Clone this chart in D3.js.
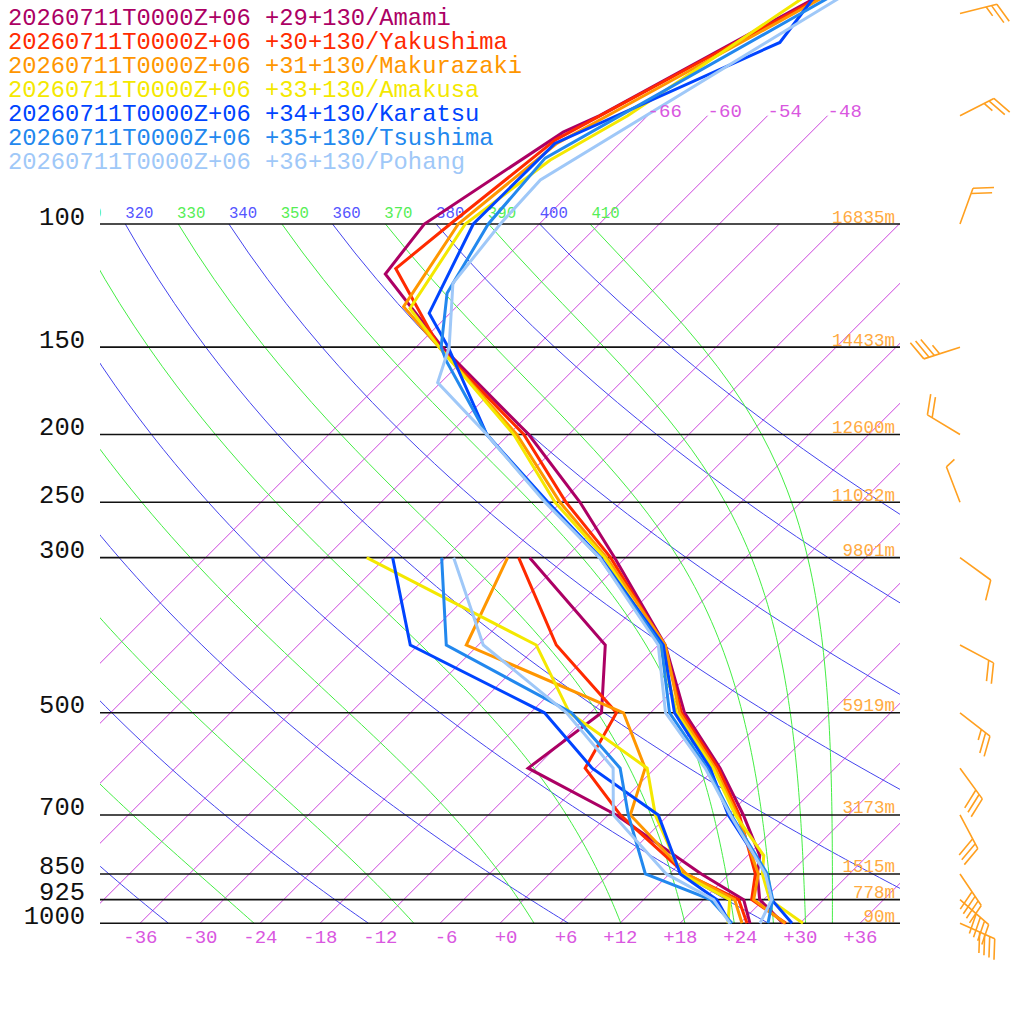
<!DOCTYPE html>
<html><head><meta charset="utf-8">
<script src="https://cdn.jsdelivr.net/npm/d3@7"></script>
<style>
html,body{margin:0;padding:0;background:#fff;}
svg{display:block;}
</style></head><body>
<svg id="chart" width="1024" height="1024"></svg>
<script>
// ---------------- DATA ----------------
const runLabel = "20260711T0000Z+06";
const stationNames = ["Amami","Yakushima","Makurazaki","Amakusa","Karatsu","Tsushima","Pohang"];
const stationCoords = ["+29+130","+30+130","+31+130","+33+130","+34+130","+35+130","+36+130"];

const pressureLevels = [100,150,200,250,300,500,700,850,925,1000];
const heightLabels = ["16835m","14433m","12600m","11032m","9801m","5919m","3173m","1515m","778m","90m"];
const tempTicks = [-36,-30,-24,-18,-12,-6,0,6,12,18,24,30,36];
const isothermValues = [-66,-60,-54,-48,-42,-36,-30,-24,-18,-12,-6,0,6,12,18,24,30,36];
const isothermTopLabels = [-66,-60,-54,-48];
const dryAdiabats = [240,260,280,300,320,340,360,380,400];
const moistAdiabats = [250,270,290,310,330,350,370,390,410];

// [pressure hPa, temperature C]
const amamiTemp = [[1000,28.3],[925,23.6],[850,20.8],[800,19.2],[700,13.5],[600,6.5],[500,-2.6],[400,-11.3],[300,-25.1],[250,-34.1],[200,-46.0],[150,-63.4],[117.9,-76.4],[100,-77.5],[73.9,-72.8],[70,-70.8],[50,-62.3],[40,-56.6]];
const yakushimaTemp = [[1000,28.6],[925,22.8],[850,20.6],[700,13.1],[600,6.3],[500,-2.9],[400,-11.4],[300,-25.5],[250,-35.5],[200,-46.5],[150,-63.7],[115.8,-75.9],[100,-74.9],[75.8,-72.8],[50,-62.0],[40,-56.2]];
const makurazakiTemp = [[1000,28.5],[925,23.0],[850,20.9],[700,12.9],[600,6.0],[500,-3.1],[400,-11.3],[300,-25.9],[250,-36.1],[200,-47.2],[150,-63.7],[131.3,-71.3],[100,-74.1],[76.7,-72.3],[50,-61.6],[40,-56.1]];
const amakusaTemp = [[1000,30.3],[925,24.6],[850,21.3],[800,19.6],[700,12.7],[600,5.8],[500,-3.4],[400,-11.8],[300,-26.1],[250,-36.6],[200,-47.5],[150,-63.7],[132,-70.5],[100,-73.4],[81,-71.3],[70,-68.0],[50,-63.0],[40,-59.7]];
const karatsuTemp = [[1000,29.2],[925,24.8],[850,21.7],[700,12.0],[600,5.5],[500,-3.6],[400,-11.5],[300,-26.5],[250,-37.3],[200,-50.2],[150,-62.8],[134.1,-68.1],[100,-72.6],[76.7,-72.5],[55,-60.1],[50,-60.8],[40,-62.5]];
const tsushimaTemp = [[1000,26.8],[925,24.9],[850,21.8],[700,12.3],[600,5.2],[500,-4.1],[400,-11.7],[300,-26.6],[250,-37.5],[200,-50.2],[157,-61.6],[150,-63.5],[125.6,-68.3],[100,-71.1],[80.5,-72.0],[50,-60.9],[40,-55.7]];
const pohangTemp = [[1000,26.0],[925,24.8],[850,21.6],[700,12.2],[600,5.0],[500,-4.5],[400,-12.0],[300,-26.6],[250,-37.6],[200,-50.2],[168.6,-60.3],[150,-62.7],[121.6,-68.7],[100,-69.9],[86.5,-70.3],[50,-59.6],[40,-55.2]];

// [pressure hPa, dew point C]
const amamiDew = [[1000,25.0],[925,22.0],[850,15.2],[700,0.8],[600,-12.7],[500,-10.9],[400,-17.3],[300,-33.6]];
const yakushimaDew = [[1000,24.7],[925,21.5],[850,13.6],[700,1.2],[600,-7.0],[500,-9.4],[400,-22.2],[300,-34.7]];
const makurazakiDew = [[1000,24.2],[925,21.1],[850,13.7],[700,2.2],[600,-1.0],[500,-8.7],[400,-31.2],[300,-35.8]];
const amakusaDew = [[1000,22.8],[925,20.6],[850,13.2],[700,4.7],[600,-0.8],[500,-14.1],[400,-24.2],[300,-49.9]];
const karatsuDew = [[1000,23.0],[925,19.3],[850,13.1],[700,5.0],[600,-6.3],[500,-16.6],[400,-36.8],[300,-47.3]];
const tsushimaDew = [[1000,23.2],[925,18.7],[850,9.6],[700,2.0],[600,-3.5],[500,-13.9],[400,-33.2],[300,-42.4]];
const pohangDew = [[1000,23.0],[925,19.0],[850,11.7],[700,0.5],[600,-4.2],[500,-14.4],[400,-29.5],[300,-41.2]];

// wind barbs
const windLevels = [50,70,100,150,200,250,300,400,500,600,700,850,925,1000];
const windDirection = [76,63,20,252,301,339,126,118,128,144,152,146,131,114];
const windSpeed = [25,25,20,35,20,5,10,20,25,30,30,40,40,40];

// ---------------- STYLE ----------------
const lineColors = ["#ac0064","#ff2a00","#ff9600","#f4e800","#0044ff","#2288ee","#9fc8f8"];
const FONT = "'Liberation Mono','DejaVu Sans Mono',monospace";

const temps = [amamiTemp,yakushimaTemp,makurazakiTemp,amakusaTemp,karatsuTemp,tsushimaTemp,pohangTemp];
const dews = [amamiDew,yakushimaDew,makurazakiDew,amakusaDew,karatsuDew,tsushimaDew,pohangDew];

// ---------------- SCALES ----------------
const y = d3.scaleLog().domain([1000,100]).range([923.3,224]);
const xT = d3.scaleLinear().domain([-40,40]).range([100,900]);
const skewX = (T,p) => xT(T) + (y(1000) - y(p));

const svg = d3.select("#chart");
svg.append("rect").attr("width",1024).attr("height",1024).attr("fill","#fff");
const defs = svg.append("defs");
defs.append("clipPath").attr("id","plotClip").append("rect").attr("x",100).attr("y",0).attr("width",800).attr("height",924);
defs.append("clipPath").attr("id","labClip").append("rect").attr("x",100).attr("y",0).attr("width",800).attr("height",1024);

const bg = svg.append("g").attr("clip-path","url(#plotClip)");

// isotherms
bg.selectAll("line.iso").data(isothermValues).join("line")
  .attr("x1",T=>skewX(T,1000)).attr("y1",y(1000))
  .attr("x2",T=>skewX(T,T<=-48?70:100)).attr("y2",T=>y(T<=-48?70:100))
  .attr("stroke","#cc44dd").attr("stroke-width",1);

// sampling pressures for curves
const samplePs = d3.range(1000,99,-10);
const curve = d3.line().x(d=>skewX(d[1],d[0])).y(d=>y(d[0]));

// dry adiabats
bg.selectAll("path.dry").data(dryAdiabats).join("path")
  .attr("d",th=>curve(samplePs.map(p=>[p, th*Math.pow(p/1000,0.2857)-273.15])))
  .attr("fill","none").attr("stroke","#4444ee").attr("stroke-width",1);

// moist (pseudo) adiabats, labelled by equivalent potential temperature
function thetaESat(Tk,p){
  const Tc = Tk-273.15;
  const es = 6.112*Math.exp(17.67*Tc/(Tc+243.5));
  let r = 0.622*es/Math.max(p-es,1e-3);
  r = Math.min(r,0.2);
  return Tk*Math.pow(1000/p,0.2854*(1-0.28*r))*Math.exp((3.376/Tk-0.00254)*r*1000*(1+0.81*r));
}
function solveT(te,p){
  let lo=120, hi=330;
  for(let i=0;i<60;i++){
    const mid=(lo+hi)/2; const v=thetaESat(mid,p);
    if(v<te) lo=mid; else hi=mid;
  }
  return (lo+hi)/2-273.15;
}
bg.selectAll("path.moist").data(moistAdiabats).join("path")
  .attr("d",te=>curve(samplePs.map(p=>[p, solveT(te,p)])))
  .attr("fill","none").attr("stroke","#44ee44").attr("stroke-width",1);

// adiabat labels at 100 hPa
const thX = th => skewX(th*Math.pow(0.1,0.2857)-273.15,100);
const labG = svg.append("g").attr("clip-path","url(#labClip)").attr("font-family",FONT).attr("font-size",15.7);
const allTh = dryAdiabats.map(v=>[v,"#5555ff"]).concat(moistAdiabats.map(v=>[v,"#55ee55"]))
  .filter(d=>thX(d[0])>=70 && thX(d[0])<900);
labG.selectAll("text").data(allTh).join("text")
  .attr("x",d=>thX(d[0])).attr("y",y(100)-6)
  .attr("fill",d=>d[1]).text(d=>d[0]);

// pressure lines
svg.append("g").selectAll("line").data(pressureLevels).join("line")
  .attr("x1",100).attr("x2",900).attr("y1",p=>y(p)).attr("y2",p=>y(p))
  .attr("stroke","#111").attr("stroke-width",1.6);

// pressure labels (left axis)
const axL = svg.append("g").attr("transform","translate(85,0)")
  .call(d3.axisLeft(y).tickValues(pressureLevels).tickFormat(d=>String(d)).tickSize(0).tickPadding(0));
axL.select(".domain").remove();
axL.attr("font-family",FONT).attr("font-size",25.5);
axL.selectAll("text").attr("dy",0).attr("x",0).attr("fill","#111");

// height labels (right)
const axR = svg.append("g").attr("transform","translate(895,0)")
  .call(d3.axisRight(y).tickValues(pressureLevels).tickFormat((d,i)=>heightLabels[i]).tickSize(0).tickPadding(0));
axR.select(".domain").remove();
axR.attr("font-family",FONT).attr("font-size",17.5);
axR.selectAll("text").attr("dy",-2).attr("x",0).attr("text-anchor","end").attr("fill","#ffaa40");

// temperature tick labels (bottom)
const fmtT = d => d>0 ? "+"+d : (d===0 ? "+0" : String(d));
const axB = svg.append("g").attr("transform","translate(0,943)")
  .call(d3.axisBottom(xT).tickValues(tempTicks).tickFormat(fmtT).tickSize(0).tickPadding(0));
axB.select(".domain").remove();
axB.attr("font-family",FONT).attr("font-size",19);
axB.selectAll("text").attr("dy",0).attr("y",0).attr("x",17).attr("text-anchor","end").attr("fill","#d957e0");

// profiles
const profG = svg.append("g").attr("fill","none").attr("stroke-width",3);
temps.forEach((t,i)=>{
  profG.append("path").attr("d",curve(t)).attr("stroke",lineColors[i]);
  profG.append("path").attr("d",curve(dews[i])).attr("stroke",lineColors[i]);
});

// isotherm top labels (drawn above profiles)
svg.append("g").attr("font-family",FONT).attr("font-size",19)
  .selectAll("text").data(isothermTopLabels).join("text")
  .attr("x",T=>skewX(T,70)).attr("y",y(70)+1)
  .attr("fill","#d957e0").text(T=>String(T));

// legend
svg.append("g").attr("font-family",FONT).attr("font-size",23.8)
  .selectAll("text").data(stationNames).join("text")
  .attr("x",8).attr("y",(d,i)=>24.5+24*i)
  .attr("fill",(d,i)=>lineColors[i])
  .text((d,i)=>`${runLabel} ${stationCoords[i]}/${d}`);

// wind barbs
const barbG = svg.append("g").attr("stroke","#ffa020").attr("stroke-width",1.6).attr("fill","none");
windLevels.forEach((p,i)=>{
  const x0=960, y0=y(p), L=38, full=21, half=11, sp=5.5;
  const a = windDirection[i]*Math.PI/180;
  const ux=Math.sin(a), uy=-Math.cos(a);
  const tx=x0+ux*L, ty=y0+uy*L;
  const fa=Math.atan2(uy,ux)+68*Math.PI/180;
  const fx=Math.cos(fa), fy=Math.sin(fa);
  let d=`M${x0},${y0}L${tx},${ty}`;
  const s=windSpeed[i]; let k=0;
  const nFull=Math.floor(s/10), nHalf=(s%10)>=5?1:0;
  for(let j=0;j<nFull;j++,k++){
    const sx=tx-ux*sp*k, sy=ty-uy*sp*k;
    d+=`M${sx},${sy}L${sx+fx*full},${sy+fy*full}`;
  }
  for(let j=0;j<nHalf;j++,k++){
    const sx=tx-ux*sp*k, sy=ty-uy*sp*k;
    d+=`M${sx},${sy}L${sx+fx*half},${sy+fy*half}`;
  }
  barbG.append("path").attr("d",d);
});
</script></body></html>
